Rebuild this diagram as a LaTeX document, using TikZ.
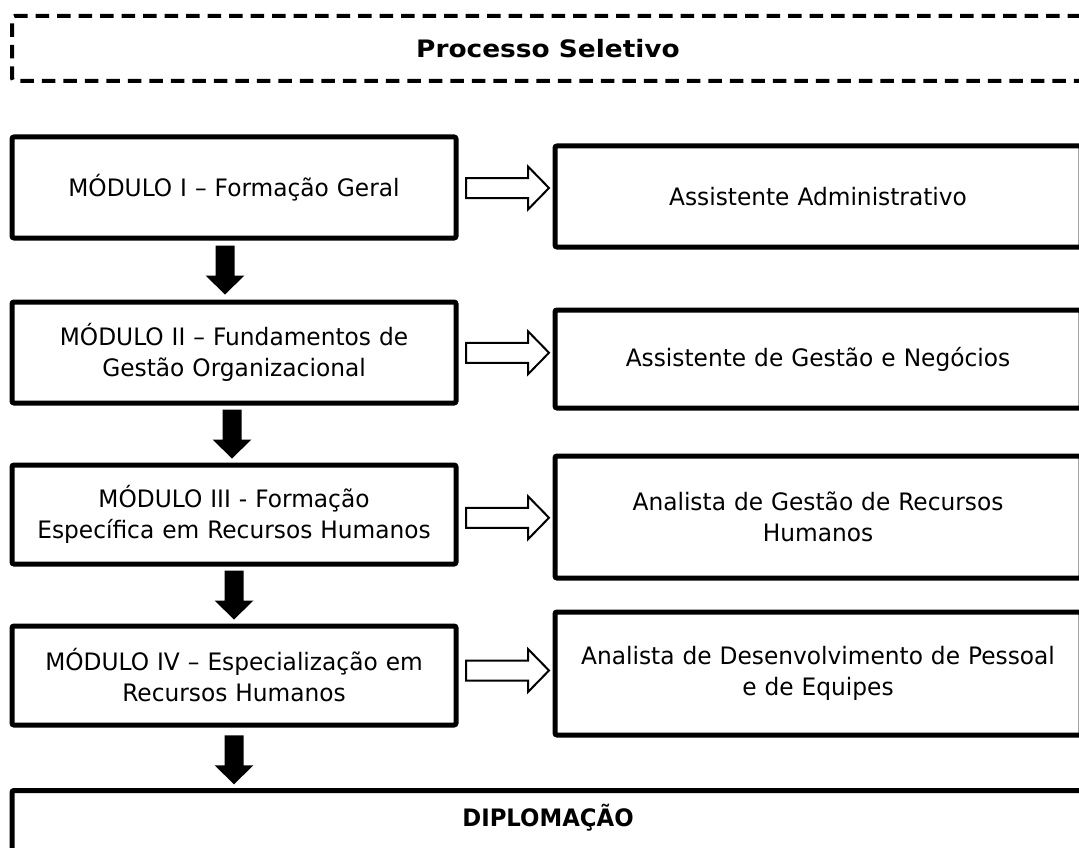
\documentclass[tikz,border=0pt]{standalone}
\usepackage{fontspec}
\setmainfont[FakeStretch=0.97]{DejaVu Sans}
\newfontfamily\titlewide[FakeStretch=1.1]{DejaVu Sans Bold}
\newfontfamily\titlenarrow[FakeStretch=0.95]{DejaVu Sans Bold}
\usetikzlibrary{calc}
\begin{document}
\begin{tikzpicture}[x=1pt,y=-1pt,
  every node/.style={font=\fontsize{24}{31}\selectfont},
  modbox/.style={draw=black,line width=5pt,rounded corners=2pt,inner sep=0pt,align=center,text width=430pt},
  outbox/.style={draw=black,line width=5pt,rounded corners=2pt,inner sep=0pt,align=center,minimum width=526pt,text width=510pt},
  dashbox/.style={draw=black,line width=4pt,dash pattern=on 13.5pt off 8pt,rounded corners=3pt,inner sep=0pt,minimum width=1072pt,minimum height=65pt},
  downarr/.pic={\fill[black] (-9.5,-24.5) -- (9.5,-24.5) -- (9.5,5.5) -- (19.5,5.5) -- (0,24.5) -- (-19.5,5.5) -- (-9.5,5.5) -- cycle;},
  hollowarr/.pic={\draw[black,fill=white,line width=2pt] (-41.5,-10) -- (20.5,-10) -- (20.5,-21.5) -- (41.5,0) -- (20.5,21.5) -- (20.5,10) -- (-41.5,10) -- cycle;}
]
\useasboundingbox (0,0) rectangle (1079,848);
\clip (0,0) rectangle (1079,848);
\fill[white] (0,0) rectangle (1079,848);

\node[dashbox,font=\fontsize{24}{30}\selectfont\titlewide] (ps) at (548,48.5) {Processo Seletivo};

\node[modbox,minimum width=444pt,minimum height=101pt] (m1) at (234,187.5) {MÓDULO I – Formação Geral};
\node[modbox,minimum width=444pt,minimum height=101pt] (m2) at (234,352.5) {MÓDULO II – Fundamentos de\\Gestão Organizacional};
\node[modbox,minimum width=444pt,minimum height=99pt] (m3) at (234,514.5) {MÓDULO III - Formação\\Específica em Recursos Humanos};
\node[modbox,minimum width=444pt,minimum height=99pt] (m4) at (234,675.5) {MÓDULO IV – Especialização em\\Recursos Humanos};

\node[outbox,minimum height=101pt] (r1) at (818,196.5) {Assistente Administrativo};
\node[outbox,minimum height=98pt] (r2) at (818,359) {Assistente de Gestão e Negócios};
\node[outbox,minimum height=122pt] (r3) at (818,517) {Analista de Gestão de Recursos\\Humanos};
\node[outbox,minimum height=123pt] (r4) at (818,673.5) {Analista de Desenvolvimento de Pessoal\\e de Equipes};

\node[draw=black,line width=5pt,rounded corners=2pt,anchor=north,minimum width=1072pt,inner sep=0pt,text height=36pt,text depth=90pt,font=\fontsize{24}{30}\selectfont\titlenarrow] (dip) at (548,788) {DIPLOMAÇÃO};

\coordinate (d1c) at ($(m1.south)!0.5!(m2.north)+(-9,0)$);
\coordinate (d2c) at ($(m2.south)!0.5!(m3.north)+(-2,0)$);
\coordinate (d3c) at ($(m3.south)!0.5!(m4.north)$);
\coordinate (d4c) at ($(m4.south)!0.5!(m4.south |- dip.north)+(0,2)$);
\pic at (d1c) {downarr};
\pic at (d2c) {downarr};
\pic at (d3c) {downarr};
\pic at (d4c) {downarr};

\coordinate (h1c) at ($(m1.east)!0.5!(r1.west)+(2,-4)$);
\coordinate (h2c) at ($(m2.east)!0.5!(r2.west)+(2,-3)$);
\coordinate (h3c) at ($(m3.east)!0.5!(r3.west)+(2,2)$);
\coordinate (h4c) at ($(m4.east)!0.5!(r4.west)+(2,-4)$);
\pic at (h1c) {hollowarr};
\pic at (h2c) {hollowarr};
\pic at (h3c) {hollowarr};
\pic at (h4c) {hollowarr};
\end{tikzpicture}
\end{document}
